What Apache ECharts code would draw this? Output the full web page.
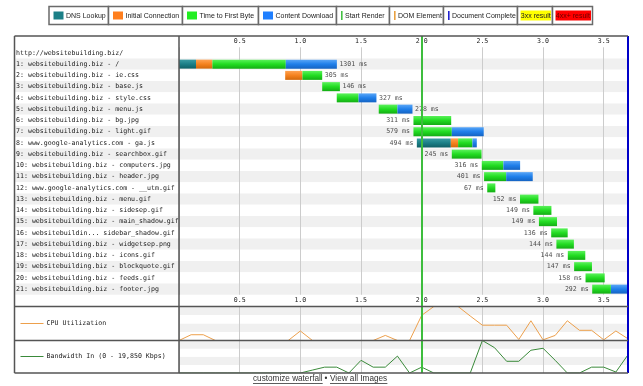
<!DOCTYPE html>
<html><head><meta charset="utf-8">
<script src="https://cdn.jsdelivr.net/npm/echarts@6/dist/echarts.min.js"></script>
<style>html,body{margin:0;padding:0;background:#fff}#c{width:643px;height:386px}</style>
</head><body><div id="c"></div>
<script>
// ---------- DATA ----------
const headerLabel = 'http://websitebuilding.biz/';
const requests = [
  '1: websitebuilding.biz - /',
  '2: websitebuilding.biz - ie.css',
  '3: websitebuilding.biz - base.js',
  '4: websitebuilding.biz - style.css',
  '5: websitebuilding.biz - menu.js',
  '6: websitebuilding.biz - bg.jpg',
  '7: websitebuilding.biz - light.gif',
  '8: www.google-analytics.com - ga.js',
  '9: websitebuilding.biz - searchbox.gif',
  '10: websitebuilding.biz - computers.jpg',
  '11: websitebuilding.biz - header.jpg',
  '12: www.google-analytics.com - __utm.gif',
  '13: websitebuilding.biz - menu.gif',
  '14: websitebuilding.biz - sidesep.gif',
  '15: websitebuilding.biz - main_shadow.gif',
  '16: websitebuildin... sidebar_shadow.gif',
  '17: websitebuilding.biz - widgetsep.png',
  '18: websitebuilding.biz - icons.gif',
  '19: websitebuilding.biz - blockquote.gif',
  '20: websitebuilding.biz - feeds.gif',
  '21: websitebuilding.biz - footer.jpg'
];
const startMs    = [0, 875, 1180, 1300, 1646, 1932, 1932, 1960, 2248, 2495, 2514, 2540, 2810, 2920, 2966, 3067, 3110, 3204, 3256, 3350, 3405];
const dnsMs      = [140, 0, 0, 0, 0, 0, 0, 280, 0, 0, 0, 0, 0, 0, 0, 0, 0, 0, 0, 0, 0];
const connectMs  = [135, 142, 0, 0, 0, 0, 0, 60, 0, 0, 0, 0, 0, 0, 0, 0, 0, 0, 0, 0, 0];
const ttfbMs     = [605, 163, 146, 180, 154, 311, 316, 118, 245, 178, 182, 67, 152, 149, 149, 136, 144, 144, 147, 158, 154];
const downloadMs = [421, 0, 0, 147, 124, 0, 263, 36, 0, 138, 219, 0, 0, 0, 0, 0, 0, 0, 0, 0, 138];
const totalMs    = [1301, 305, 146, 327, 278, 311, 579, 494, 245, 316, 401, 67, 152, 149, 149, 136, 144, 144, 147, 158, 292];

const startRenderS = 2.0;
const docCompleteS = 3.7;

const sampleTimes = [0,0.1,0.2,0.3,0.4,0.5,0.6,0.7,0.8,0.9,1.0,1.1,1.2,1.3,1.4,1.5,1.6,1.7,1.8,1.9,2.0,2.1,2.2,2.3,2.4,2.5,2.6,2.7,2.8,2.9,3.0,3.1,3.2,3.3,3.4,3.5,3.6,3.7];
const cpuPct = [0,17,17,0,0,0,0,0,0,0,28,0,0,0,0,0,0,15,0,0,74,100,100,100,72,45,45,45,3,58,2,15,58,30,30,2,28,5];
const bwKbps = [0,0,0,0,0,0,0,0,0,0,0,1790,3570,3570,0,7740,3570,3570,10320,0,3570,0,0,0,0,19850,15480,7150,7150,13900,15090,7740,0,0,3570,3570,600,11120];
const bwMax = 19850;

const legendItems = [
  {name:'DNS Lookup', kind:'box', color:'#1b7f87'},
  {name:'Initial Connection', kind:'box', color:'#ff7f1e'},
  {name:'Time to First Byte', kind:'box', color:'#22ee22'},
  {name:'Content Download', kind:'box', color:'#1f7fff'},
  {name:'Start Render', kind:'line', color:'#44c044'},
  {name:'DOM Element', kind:'line', color:'#e8a040'},
  {name:'Document Complete', kind:'line', color:'#2020d0'},
  {name:'3xx result', kind:'fill', color:'#ffff00', text:'#222'},
  {name:'4xx+ result', kind:'fill', color:'#ff0000', text:'#6a0000'}
];

// ---------- LAYOUT / STYLE ----------
const MONO = "'DejaVu Sans Mono', monospace";
const SANS = "'Liberation Sans', Arial, sans-serif";
const FS = 6.6;
const XMAX = 3.7;
const legendEdges = [49,108.5,182.5,258.5,336.5,389.5,443.5,517.5,552.5,592.5];

const rows = [headerLabel].concat(requests);
const withHeader = arr => ['-'].concat(arr.map(v => v / 1000));

function grad(a, b, c) {
  return new echarts.graphic.LinearGradient(0, 0, 0, 1, [
    {offset: 0, color: a}, {offset: 0.5, color: b}, {offset: 1, color: c}
  ]);
}
const segDefs = [
  {name:'DNS Lookup', data: dnsMs, color: grad('#3a9ca3', '#1b7f87', '#0f6066')},
  {name:'Initial Connection', data: connectMs, color: grad('#ffa252', '#f5821f', '#d2680c')},
  {name:'Time to First Byte', data: ttfbMs, color: grad('#5cf25c', '#22dc22', '#14ad14')},
  {name:'Content Download', data: downloadMs, color: grad('#5aa6f7', '#1f7fea', '#1563c2')}
];

const barSeries = [{
  type:'bar', stack:'w', xAxisIndex:0, yAxisIndex:0, barWidth:9, silent:true,
  data: withHeader(startMs), itemStyle:{color:'rgba(0,0,0,0)'}, z:3
}].concat(segDefs.map(s => ({
  type:'bar', stack:'w', name:s.name, xAxisIndex:0, yAxisIndex:0, barWidth:9, silent:true,
  data: withHeader(s.data), itemStyle:{color:s.color}, z:3
})));

const durData = requests.map((r, i) => {
  const left = startMs[i] >= 1900;
  const x = left ? startMs[i] / 1000 : (startMs[i] + totalMs[i]) / 1000;
  return {value:[x, i + 1], label:{position: left ? 'left' : 'right', distance: left ? 3 : 2}};
});

const labelStyle = {fontFamily: MONO, fontSize: FS, color: '#222'};
const splitAreaStyle = {show:true, interval:0, areaStyle:{color:['#ffffff', '#f0f0f0']}};
const valSplitArea = {show:true, areaStyle:{color:['#ffffff', '#f0f0f0']}};
const gridLine = {show:true, lineStyle:{color:'#cccccc', width:1}};
const tickFmt = v => (v <= 0 || v > 3.6) ? '' : v.toFixed(1);

function timeAxis(grid, extra) {
  return Object.assign({
    type:'value', gridIndex:grid, min:0, max:XMAX, interval:0.5,
    axisLine:{show:false}, axisTick:{show:false}, axisLabel:{show:false},
    splitLine:gridLine
  }, extra);
}

// ---------- GRAPHICS (legend, frame, side labels, footer) ----------
const graphics = [];
for (let i = 0; i < legendItems.length; i++) {
  const x0 = legendEdges[i], x1 = legendEdges[i + 1];
  graphics.push({type:'rect', shape:{x:x0, y:6.5, width:x1 - x0, height:18},
    style:{fill:'#fff', stroke:'#6a6a6a', lineWidth:1.5}, z:50});
  const it = legendItems[i];
  let tx;
  if (it.kind === 'box') {
    graphics.push({type:'rect', shape:{x:x0 + 4.5, y:11.5, width:10, height:8}, style:{fill:it.color}, z:51});
    tx = x0 + 17;
  } else if (it.kind === 'line') {
    graphics.push({type:'rect', shape:{x:x0 + 4.5, y:11, width:1.6, height:9}, style:{fill:it.color}, z:51});
    tx = x0 + 8.5;
  } else {
    graphics.push({type:'rect', shape:{x:x0 + 3, y:10.5, width:x1 - x0 - 4.5, height:10}, style:{fill:it.color}, z:51});
    tx = x0 + 3.3;
  }
  graphics.push({type:'text', x:tx, y:16, z:52,
    style:{text:it.name, font:'7px ' + SANS, fill: it.text || '#222',
      align:'left', verticalAlign:'middle', textAlign:'left', textVerticalAlign:'middle'}});
}
// frame
const FR = '#555';
const fl = (x1, y1, x2, y2) => graphics.push({type:'line', shape:{x1, y1, x2, y2}, style:{stroke:FR, lineWidth:1.5}, z:40, silent:true});
fl(14.5, 36, 628, 36);
fl(14.5, 36, 14.5, 373);
fl(14.5, 373, 628, 373);
fl(179, 36, 179, 373);
fl(14.5, 306.5, 628, 306.5);
fl(14.5, 340.5, 628, 340.5);
// CPU / bandwidth side labels
graphics.push({type:'line', shape:{x1:20.5, y1:323.5, x2:43.5, y2:323.5}, style:{stroke:'#eda04c', lineWidth:1}, z:41});
graphics.push({type:'text', x:46.6, y:323.5, z:41, style:{text:'CPU Utilization', font:FS + 'px ' + MONO, fill:'#222', verticalAlign:'middle', textVerticalAlign:'middle'}});
graphics.push({type:'line', shape:{x1:20.5, y1:356.5, x2:43.5, y2:356.5}, style:{stroke:'#3a8a3a', lineWidth:1}, z:41});
graphics.push({type:'text', x:46.6, y:356.5, z:41, style:{text:'Bandwidth In (0 - 19,850 Kbps)', font:FS + 'px ' + MONO, fill:'#222', verticalAlign:'middle', textVerticalAlign:'middle'}});
// footer
graphics.push({type:'text', x:253, y:379, z:41, style:{text:'customize waterfall', font:'8.2px ' + SANS, fill:'#333', verticalAlign:'middle', textVerticalAlign:'middle'}});
graphics.push({type:'line', shape:{x1:253, y1:383.5, x2:322.7, y2:383.5}, style:{stroke:'#333', lineWidth:0.8}, z:41});
graphics.push({type:'text', x:326, y:379, z:41, style:{text:'\u2022', font:'8.2px ' + SANS, fill:'#333', align:'center', textAlign:'center', verticalAlign:'middle', textVerticalAlign:'middle'}});
graphics.push({type:'text', x:330, y:379, z:41, style:{text:'View all Images', font:'8.2px ' + SANS, fill:'#333', verticalAlign:'middle', textVerticalAlign:'middle'}});
graphics.push({type:'line', shape:{x1:330, y1:383.5, x2:387.4, y2:383.5}, style:{stroke:'#333', lineWidth:0.8}, z:41});

// ---------- CHART ----------
const chart = echarts.init(document.getElementById('c'), null, {renderer:'canvas'});
chart.setOption({
  animation:false,
  backgroundColor:'#fff',
  grid:[
    {left:179, top:47.25, width:449, height:247.5},
    {left:15, top:47.25, width:164, height:247.5},
    {left:179, top:306.5, width:449, height:34},
    {left:179, top:340.5, width:449, height:32.5},
    {left:179, top:36, width:449, height:337}
  ],
  xAxis:[
    timeAxis(0, {position:'top', axisLabel:Object.assign({show:true, margin:2, formatter:tickFmt}, labelStyle)}),
    timeAxis(0, {position:'bottom', splitLine:{show:false}, axisLabel:Object.assign({show:true, margin:2, formatter:tickFmt}, labelStyle)}),
    {type:'value', gridIndex:1, show:false, min:0, max:1},
    timeAxis(2, {}),
    timeAxis(3, {}),
    {type:'value', gridIndex:4, show:false, min:0, max:XMAX}
  ],
  yAxis:[
    {type:'category', gridIndex:0, data:rows, inverse:true, axisLine:{show:false}, axisTick:{show:false, interval:0}, axisLabel:{show:false, interval:0}, splitLine:{show:false}, splitArea:splitAreaStyle},
    {type:'category', gridIndex:1, data:rows, inverse:true, axisLine:{show:false}, axisTick:{show:false, interval:0},
      axisLabel:Object.assign({show:true, inside:true, margin:1, interval:0, align:'left'}, labelStyle),
      splitLine:{show:false}, splitArea:splitAreaStyle},
    {type:'value', gridIndex:2, min:0, max:100, interval:25, axisLine:{show:false}, axisTick:{show:false}, axisLabel:{show:false}, splitLine:{show:false}, splitArea:valSplitArea},
    {type:'value', gridIndex:3, min:0, max:bwMax, interval:bwMax / 4, axisLine:{show:false}, axisTick:{show:false}, axisLabel:{show:false}, splitLine:{show:false}, splitArea:valSplitArea},
    {type:'value', gridIndex:4, show:false, min:0, max:1}
  ],
  series: barSeries.concat([
    {type:'scatter', xAxisIndex:0, yAxisIndex:0, data:durData, symbolSize:1, itemStyle:{color:'rgba(0,0,0,0)'}, silent:true, z:4,
      label:Object.assign({show:true, formatter: p => totalMs[p.dataIndex] + ' ms'}, labelStyle)},
    {type:'line', xAxisIndex:3, yAxisIndex:2, data:sampleTimes.map((t, i) => [t, cpuPct[i]]), symbol:'none', silent:true, z:3,
      lineStyle:{color:'#eda04c', width:1}},
    {type:'line', xAxisIndex:4, yAxisIndex:3, data:sampleTimes.map((t, i) => [t, bwKbps[i]]), symbol:'none', silent:true, z:3,
      lineStyle:{color:'#3a8a3a', width:1}},
    {type:'scatter', xAxisIndex:5, yAxisIndex:4, data:[[startRenderS, 0.5]], symbolSize:0, silent:true, z:2,
      markLine:{silent:true, symbol:['none','none'], label:{show:false}, animation:false,
        data:[
          {xAxis:startRenderS, lineStyle:{color:'#3dbd3d', width:2, type:'solid'}},
          {xAxis:docCompleteS, lineStyle:{color:'#0000c8', width:2, type:'solid'}}
        ]}}
  ]),
  graphic: graphics
});
</script>
</body></html>
